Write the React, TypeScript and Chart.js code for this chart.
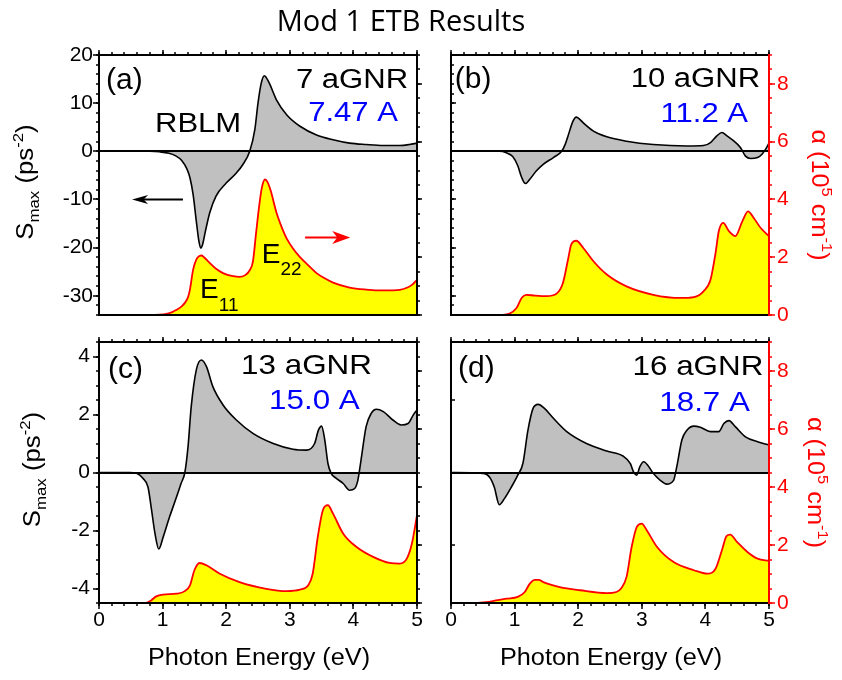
import { useEffect, useRef } from "react";
import { Chart, registerables } from "chart.js";
Chart.register(...registerables);

const FONT = "'Liberation Sans', Arial, sans-serif";
const TITLE_FONT = "'Open Sans', sans-serif";

// ---------- text / ticks ----------
const CHART_TITLE = "Mod 1 ETB Results";
const X_TICK_LABELS = [0, 1, 2, 3, 4, 5];
const S_TICKS_ROW1 = [-30, -20, -10, 0, 10, 20];
const S_TICKS_ROW2 = [-4, -2, 0, 2, 4];
const ALPHA_TICKS = [0, 2, 4, 6, 8];
const S_RANGE_ROW1 = [-34, 20];
const S_RANGE_ROW2 = [-4.5, 4.5];
const ALPHA_RANGE = [0, 9];
const E_RANGE = [0, 5];
const PANEL_LABELS = ["(a)", "(b)", "(c)", "(d)"];
const RIBBON_NAMES = ["7 aGNR", "10 aGNR", "13 aGNR", "16 aGNR"];
const RIBBON_WIDTHS = ["7.47 A", "11.2 A", "15.0 A", "18.7 A"];
const X_TITLE = "Photon Energy (eV)";

// ---------- (a) 7 aGNR ----------
const energyS_7 = [0, 0.8, 0.95, 1.1, 1.2, 1.3, 1.38, 1.43, 1.48, 1.53, 1.57, 1.6, 1.63, 1.67, 1.74, 1.84, 2.0, 2.16, 2.26, 2.37, 2.45, 2.5, 2.55, 2.6, 2.63, 2.68, 2.79, 2.95, 3.16, 3.42, 3.68, 3.94, 4.2, 4.47, 4.73, 4.88, 5.0];
const smax_7 = [0, 0, -0.1, -0.4, -0.9, -1.9, -3.6, -5.5, -9.0, -14.5, -18.6, -20.1, -19.3, -16.8, -12.8, -9.3, -6.6, -4.5, -2.8, 0, 4.5, 10, 14.1, 15.7, 15.3, 14.1, 10.7, 7.6, 5.2, 3.4, 2.4, 1.7, 1.4, 1.2, 1.2, 1.4, 1.7];
const energyAlpha_7 = [0, 0.8, 0.95, 1.06, 1.15, 1.22, 1.3, 1.35, 1.4, 1.43, 1.48, 1.53, 1.58, 1.61, 1.65, 1.72, 1.84, 1.95, 2.05, 2.2, 2.3, 2.37, 2.42, 2.47, 2.52, 2.56, 2.61, 2.65, 2.7, 2.79, 2.88, 2.95, 3.05, 3.16, 3.3, 3.42, 3.55, 3.68, 3.94, 4.2, 4.47, 4.73, 4.85, 4.93, 5.0];
const alpha_7 = [0, 0, 0.01, 0.04, 0.1, 0.18, 0.3, 0.42, 0.62, 0.88, 1.57, 1.92, 2.04, 2.06, 2.0, 1.85, 1.6, 1.45, 1.37, 1.32, 1.38, 1.55, 1.85, 2.84, 3.8, 4.4, 4.69, 4.6, 4.3, 3.55, 3.0, 2.65, 2.3, 2.0, 1.7, 1.45, 1.27, 1.12, 0.95, 0.88, 0.85, 0.87, 0.95, 1.06, 1.22];

// ---------- (b) 10 aGNR ----------
const energyS_10 = [0, 0.76, 0.87, 0.97, 1.05, 1.11, 1.17, 1.24, 1.34, 1.45, 1.61, 1.74, 1.8, 1.84, 1.92, 1.97, 2.02, 2.08, 2.24, 2.45, 2.76, 3.18, 3.71, 3.97, 4.08, 4.18, 4.26, 4.34, 4.45, 4.55, 4.63, 4.71, 4.82, 4.89, 4.95, 5.0];
const smax_10 = [0, 0, -0.3, -1.1, -3.0, -5.4, -6.7, -5.8, -4.1, -2.7, -1.3, 0, 1.6, 3.2, 6.3, 7.1, 6.7, 5.9, 4.2, 3.0, 2.1, 1.4, 1.1, 1.2, 1.8, 3.2, 3.9, 3.2, 2.1, 0.8, -1.0, -1.5, -1.3, -0.6, 0.5, 1.7];
const energyAlpha_10 = [0, 0.76, 0.92, 1.03, 1.11, 1.18, 1.32, 1.5, 1.66, 1.76, 1.84, 1.89, 1.97, 2.08, 2.24, 2.45, 2.76, 3.18, 3.61, 3.82, 3.97, 4.08, 4.16, 4.21, 4.28, 4.37, 4.47, 4.58, 4.67, 4.76, 4.87, 5.0];
const alpha_10 = [0, 0, 0.05, 0.24, 0.59, 0.7, 0.67, 0.65, 0.74, 1.11, 1.92, 2.44, 2.57, 2.32, 1.86, 1.4, 0.99, 0.7, 0.59, 0.62, 0.82, 1.22, 2.15, 2.9, 3.19, 2.9, 2.73, 3.24, 3.59, 3.36, 3.01, 2.73];

// ---------- (c) 13 aGNR ----------
const energyS_13 = [0, 0.48, 0.59, 0.69, 0.77, 0.82, 0.88, 0.94, 1.01, 1.11, 1.22, 1.29, 1.35, 1.4, 1.45, 1.53, 1.61, 1.69, 1.79, 1.95, 2.16, 2.42, 2.74, 3.05, 3.26, 3.39, 3.45, 3.5, 3.55, 3.6, 3.65, 3.73, 3.84, 3.94, 4.02, 4.07, 4.12, 4.2, 4.28, 4.36, 4.47, 4.62, 4.75, 4.86, 4.94, 5.0];
const smax_13 = [0, 0, -0.03, -0.2, -0.5, -1.19, -2.1, -2.64, -2.22, -1.53, -0.84, -0.38, 0, 0.89, 2.27, 3.54, 3.88, 3.65, 2.96, 2.33, 1.81, 1.35, 1.0, 0.8, 0.77, 1.0, 1.46, 1.6, 1.12, 0.31, -0.03, -0.2, -0.38, -0.61, -0.55, -0.27, 0.43, 1.58, 2.04, 2.18, 2.1, 1.81, 1.64, 1.69, 1.98, 2.16];
const energyAlpha_13 = [0, 0.74, 0.82, 0.9, 1.01, 1.22, 1.35, 1.43, 1.5, 1.58, 1.69, 1.9, 2.21, 2.63, 2.95, 3.16, 3.29, 3.36, 3.44, 3.52, 3.6, 3.68, 3.84, 4.05, 4.31, 4.57, 4.73, 4.84, 4.92, 5.0];
const alpha_13 = [0, 0, 0.09, 0.23, 0.29, 0.32, 0.41, 0.61, 1.13, 1.38, 1.3, 1.01, 0.72, 0.49, 0.41, 0.46, 0.61, 1.01, 2.28, 3.2, 3.37, 3.08, 2.39, 1.93, 1.59, 1.38, 1.36, 1.53, 2.05, 3.03];

// ---------- (d) 16 aGNR ----------
const energyS_16 = [0, 0.5, 0.61, 0.68, 0.76, 0.84, 0.95, 1.05, 1.13, 1.21, 1.29, 1.37, 1.47, 1.61, 1.82, 2.13, 2.45, 2.71, 2.82, 2.87, 2.92, 2.97, 3.03, 3.11, 3.18, 3.29, 3.39, 3.5, 3.55, 3.63, 3.71, 3.82, 3.92, 4.08, 4.21, 4.29, 4.37, 4.47, 4.63, 4.82, 5.0];
const smax_16 = [0, -0.03, -0.17, -0.5, -1.11, -0.9, -0.5, -0.09, 0.31, 1.46, 2.21, 2.35, 2.21, 1.87, 1.41, 1.0, 0.74, 0.56, 0.31, 0.02, -0.09, 0.2, 0.37, 0.2, -0.03, -0.27, -0.4, -0.27, 0.2, 1.12, 1.46, 1.6, 1.56, 1.41, 1.41, 1.69, 1.79, 1.58, 1.23, 1.06, 0.95];
const energyAlpha_16 = [0, 0.29, 0.55, 0.71, 0.87, 1.05, 1.16, 1.24, 1.32, 1.38, 1.45, 1.71, 2.03, 2.45, 2.6, 2.68, 2.76, 2.84, 2.92, 3.0, 3.08, 3.24, 3.5, 3.82, 4.03, 4.16, 4.26, 4.33, 4.39, 4.5, 4.66, 4.82, 5.0];
const alpha_16 = [0, 0, 0.03, 0.09, 0.15, 0.21, 0.38, 0.67, 0.8, 0.8, 0.72, 0.55, 0.44, 0.34, 0.38, 0.52, 0.9, 1.93, 2.62, 2.74, 2.5, 1.93, 1.41, 1.13, 1.01, 1.18, 1.82, 2.3, 2.36, 2.1, 1.76, 1.53, 1.45];

// ---------- layout ----------
type Seg = { t: string; size: number; dy?: number };
type Ann = { segs: Seg[]; x: number; y: number; align: "left" | "right" | "center"; color: string; sx: number; font?: string };
type Arrow = { x1: number; x2: number; y: number; color: string; head: number; half: number; lw: number };
type TickSpec = { axis: "x" | "y" | "y2"; edge: "top" | "bottom" | "left" | "right"; step: number; len: number; dir: number; color: string };

const W = 842, H = 680;
const COLS = [{ l: 99, r: 417 }, { l: 451, r: 769 }];
const ROWS = [{ t: 55, b: 315 }, { t: 342, b: 603 }];
const LEFT_AXIS_W = 45, RIGHT_AXIS_W = 40, X_AXIS_H = 40;

const leftTitle: Seg[] = [{ t: "S", size: 23 }, { t: "max", size: 15, dy: 6 }, { t: " (ps", size: 23 }, { t: "-2", size: 15, dy: -10 }, { t: ")", size: 23 }];
const rightTitle: Seg[] = [{ t: "α (10", size: 23 }, { t: "5", size: 15, dy: -10 }, { t: " cm", size: 23 }, { t: "-1", size: 15, dy: -10 }, { t: ")", size: 23 }];

function drawRich(ctx: CanvasRenderingContext2D, segs: Seg[], x: number, y: number, align: string, color: string, sx: number, rot = 0, font = FONT) {
  ctx.save();
  ctx.translate(x, y);
  if (rot) ctx.rotate(rot);
  ctx.scale(sx, 1);
  let w = 0;
  for (const s of segs) { ctx.font = `${s.size}px ${font}`; w += ctx.measureText(s.t).width; }
  let cx = align === "left" ? 0 : align === "center" ? -w / 2 : -w;
  ctx.fillStyle = color;
  ctx.textBaseline = "alphabetic";
  ctx.textAlign = "left";
  for (const s of segs) {
    ctx.font = `${s.size}px ${font}`;
    ctx.fillText(s.t, cx, s.dy || 0);
    cx += ctx.measureText(s.t).width;
  }
  ctx.restore();
}

function topTicks(): TickSpec[] {
  return [
    { axis: "x", edge: "top", step: 0.2, len: 3, dir: 1, color: "#000" },
    { axis: "x", edge: "top", step: 1, len: 5, dir: 1, color: "#000" },
  ];
}
function bottomTicks(): TickSpec[] {
  return [
    { axis: "x", edge: "bottom", step: 0.2, len: 3, dir: 1, color: "#000" },
    { axis: "x", edge: "bottom", step: 1, len: 6, dir: 1, color: "#000" },
  ];
}
function alphaTicks(color: string, major: number): TickSpec[] {
  return [
    { axis: "y2", edge: "right", step: 0.5, len: 3, dir: 1, color },
    { axis: "y2", edge: "right", step: 2, len: major, dir: 1, color },
  ];
}

type PanelCfg = {
  key: string; col: number; row: number;
  sE: number[]; sV: number[]; aE: number[]; aV: number[];
  anns: Ann[]; arrows: Arrow[]; ticks: TickSpec[];
};

const PANELS: PanelCfg[] = [
  {
    key: "a", col: 0, row: 0, sE: energyS_7, sV: smax_7, aE: energyAlpha_7, aV: alpha_7,
    anns: [
      { segs: [{ t: PANEL_LABELS[0], size: 30 }], x: 0.11, y: 13.0, align: "left", color: "#000", sx: 1 },
      { segs: [{ t: RIBBON_NAMES[0], size: 27 }], x: 4.86, y: 13.1, align: "right", color: "#000", sx: 1.15 },
      { segs: [{ t: RIBBON_WIDTHS[0], size: 27 }], x: 4.7, y: 6.3, align: "right", color: "#0000ff", sx: 1.15 },
      { segs: [{ t: "RBLM", size: 27 }], x: 0.88, y: 3.95, align: "left", color: "#000", sx: 1.15 },
      { segs: [{ t: "E", size: 28 }, { t: "11", size: 19, dy: 13 }], x: 1.59, y: -30.4, align: "left", color: "#000", sx: 1 },
      { segs: [{ t: "E", size: 28 }, { t: "22", size: 19, dy: 12 }], x: 2.56, y: -23.3, align: "left", color: "#000", sx: 1 },
    ],
    arrows: [
      { x1: 1.32, x2: 0.52, y: -10, color: "#000", head: 16, half: 4.5, lw: 2 },
      { x1: 3.24, x2: 3.95, y: -17.9, color: "#ff0000", head: 18, half: 6.5, lw: 2 },
    ],
    ticks: [...topTicks(),
      { axis: "y", edge: "left", step: 2, len: 3, dir: 1, color: "#000" },
      { axis: "y", edge: "left", step: 10, len: 6, dir: 1, color: "#000" },
      ...alphaTicks("#000", 5)],
  },
  {
    key: "b", col: 1, row: 0, sE: energyS_10, sV: smax_10, aE: energyAlpha_10, aV: alpha_10,
    anns: [
      { segs: [{ t: PANEL_LABELS[1], size: 30 }], x: 0.06, y: 13.2, align: "left", color: "#000", sx: 1 },
      { segs: [{ t: RIBBON_NAMES[1], size: 27 }], x: 4.86, y: 13.3, align: "right", color: "#000", sx: 1.15 },
      { segs: [{ t: RIBBON_WIDTHS[1], size: 27 }], x: 4.67, y: 6.15, align: "right", color: "#0000ff", sx: 1.15 },
    ],
    arrows: [],
    ticks: [...topTicks(),
      { axis: "y", edge: "left", step: 2, len: 3, dir: -1, color: "#000" },
      { axis: "y", edge: "left", step: 10, len: 5, dir: -1, color: "#000" },
      ...alphaTicks("#ff0000", 6)],
  },
  {
    key: "c", col: 0, row: 1, sE: energyS_13, sV: smax_13, aE: energyAlpha_13, aV: alpha_13,
    anns: [
      { segs: [{ t: PANEL_LABELS[2], size: 30 }], x: 0.14, y: 3.25, align: "left", color: "#000", sx: 1 },
      { segs: [{ t: RIBBON_NAMES[2], size: 28 }], x: 4.29, y: 3.4, align: "right", color: "#000", sx: 1.12 },
      { segs: [{ t: RIBBON_WIDTHS[2], size: 28 }], x: 4.1, y: 2.18, align: "right", color: "#0000ff", sx: 1.12 },
    ],
    arrows: [],
    ticks: [...topTicks(), ...bottomTicks(),
      { axis: "y", edge: "left", step: 0.5, len: 3, dir: 1, color: "#000" },
      { axis: "y", edge: "left", step: 2, len: 6, dir: 1, color: "#000" },
      ...alphaTicks("#000", 5)],
  },
  {
    key: "d", col: 1, row: 1, sE: energyS_16, sV: smax_16, aE: energyAlpha_16, aV: alpha_16,
    anns: [
      { segs: [{ t: PANEL_LABELS[3], size: 30 }], x: 0.11, y: 3.3, align: "left", color: "#000", sx: 1 },
      { segs: [{ t: RIBBON_NAMES[3], size: 28 }], x: 4.91, y: 3.36, align: "right", color: "#000", sx: 1.12 },
      { segs: [{ t: RIBBON_WIDTHS[3], size: 28 }], x: 4.7, y: 2.13, align: "right", color: "#0000ff", sx: 1.12 },
    ],
    arrows: [],
    ticks: [...topTicks(), ...bottomTicks(),
      { axis: "y", edge: "left", step: 2.5, len: 4, dir: -1, color: "#000" },
      ...alphaTicks("#ff0000", 6)],
  },
];

function makeDecor(cfg: PanelCfg) {
  const showLeft = cfg.col === 0;
  const showBottom = cfg.row === 1;
  return {
    id: "decor",
    afterDatasetsDraw(chart: any) {
      const ctx: CanvasRenderingContext2D = chart.ctx;
      const ca = chart.chartArea;
      const xs = chart.scales.x, ys = chart.scales.y;
      ctx.save();
      // zero line
      const y0 = Math.round(ys.getPixelForValue(0));
      ctx.strokeStyle = "#000";
      ctx.lineWidth = 2;
      ctx.beginPath(); ctx.moveTo(ca.left, y0); ctx.lineTo(ca.right, y0); ctx.stroke();
      // tick marks
      for (const t of cfg.ticks) {
        const sc = chart.scales[t.axis];
        const start = Math.ceil(sc.min / t.step - 1e-6);
        const end = Math.floor(sc.max / t.step + 1e-6);
        ctx.strokeStyle = t.color;
        ctx.lineWidth = 1.5;
        ctx.beginPath();
        for (let k = start; k <= end; k++) {
          const p = Math.round(sc.getPixelForValue(k * t.step));
          if (t.edge === "bottom") { ctx.moveTo(p, ca.bottom); ctx.lineTo(p, ca.bottom + t.dir * t.len); }
          else if (t.edge === "top") { ctx.moveTo(p, ca.top); ctx.lineTo(p, ca.top - t.dir * t.len); }
          else if (t.edge === "left") { ctx.moveTo(ca.left, p); ctx.lineTo(ca.left - t.dir * t.len, p); }
          else { ctx.moveTo(ca.right, p); ctx.lineTo(ca.right + t.dir * t.len, p); }
        }
        ctx.stroke();
      }
      // frame
      ctx.strokeStyle = "#000";
      ctx.lineWidth = 2;
      ctx.strokeRect(ca.left, ca.top, ca.right - ca.left, ca.bottom - ca.top);
      if (!showLeft) {
        ctx.strokeStyle = "#ff0000";
        ctx.beginPath(); ctx.moveTo(ca.right, ca.top - 1); ctx.lineTo(ca.right, ca.bottom + 1); ctx.stroke();
      }
      // arrows
      for (const a of cfg.arrows) {
        const px1 = xs.getPixelForValue(a.x1), px2 = xs.getPixelForValue(a.x2), py = ys.getPixelForValue(a.y);
        const dir = px2 > px1 ? 1 : -1;
        ctx.strokeStyle = a.color; ctx.fillStyle = a.color; ctx.lineWidth = a.lw;
        ctx.beginPath(); ctx.moveTo(px1, py); ctx.lineTo(px2 - dir * a.head * 0.6, py); ctx.stroke();
        ctx.beginPath();
        ctx.moveTo(px2, py);
        ctx.lineTo(px2 - dir * a.head, py - a.half);
        ctx.lineTo(px2 - dir * a.head * 0.72, py);
        ctx.lineTo(px2 - dir * a.head, py + a.half);
        ctx.closePath(); ctx.fill();
      }
      // annotations
      for (const a of cfg.anns) {
        drawRich(ctx, a.segs, xs.getPixelForValue(a.x), ys.getPixelForValue(a.y), a.align, a.color, a.sx);
      }
      // axis titles
      const cy = (ca.top + ca.bottom) / 2;
      if (showLeft) {
        const bx = cfg.row === 0 ? ca.left - 66 : ca.left - 59;
        drawRich(ctx, leftTitle, bx, cy - 3, "center", "#000", 1.12, -Math.PI / 2);
      } else {
        const bx = cfg.row === 0 ? ca.right + 43 : ca.right + 39;
        drawRich(ctx, rightTitle, bx, cy + 10, "center", "#ff0000", 1.1, Math.PI / 2);
      }
      if (showBottom) {
        drawRich(ctx, [{ t: X_TITLE, size: 23 }], (ca.left + ca.right) / 2 + 1, ca.bottom + 62, "center", "#000", 1.1);
      }
      if (cfg.key === "a") {
        drawRich(ctx, [{ t: CHART_TITLE, size: 29 }], 401, 31, "center", "#000", 1, 0, TITLE_FONT);
      }
      ctx.restore();
    },
  };
}

function buildConfig(cfg: PanelCfg): any {
  const col = COLS[cfg.col], row = ROWS[cfg.row];
  const showLeft = cfg.col === 0;
  const showRight = cfg.col === 1;
  const showX = cfg.row === 1;
  const sRange = cfg.row === 0 ? S_RANGE_ROW1 : S_RANGE_ROW2;
  const sTicks = cfg.row === 0 ? S_TICKS_ROW1 : S_TICKS_ROW2;
  const padding = {
    left: col.l - (showLeft ? LEFT_AXIS_W : 0),
    right: W - col.r - (showRight ? RIGHT_AXIS_W : 0),
    top: row.t,
    bottom: H - row.b - (showX ? X_AXIS_H : 0),
  };
  const tickFont = { family: FONT, size: 21 };
  return {
    type: "line",
    data: {
      datasets: [
        {
          data: cfg.sE.map((x, i) => ({ x, y: cfg.sV[i] })),
          yAxisID: "y",
          borderColor: "#000000",
          borderWidth: 1.6,
          backgroundColor: "#c0c0c0",
          fill: { value: 0 },
          pointRadius: 0,
          cubicInterpolationMode: "monotone",
        },
        {
          data: cfg.aE.map((x, i) => ({ x, y: cfg.aV[i] })),
          yAxisID: "y2",
          borderColor: "#ff0000",
          borderWidth: 1.8,
          backgroundColor: "#ffff00",
          fill: "origin",
          pointRadius: 0,
          cubicInterpolationMode: "monotone",
        },
      ],
    },
    options: {
      animation: false,
      responsive: false,
      maintainAspectRatio: false,
      events: [],
      layout: { padding },
      plugins: { legend: { display: false }, tooltip: { enabled: false }, title: { display: false } },
      scales: {
        x: {
          type: "linear",
          min: E_RANGE[0],
          max: E_RANGE[1],
          display: showX,
          afterBuildTicks: (s: any) => { s.ticks = X_TICK_LABELS.map((v) => ({ value: v })); },
          afterFit: showX ? (s: any) => { s.height = X_AXIS_H; } : undefined,
          grid: { display: false, drawTicks: false },
          border: { display: false },
          ticks: { font: tickFont, color: "#000", padding: 5, maxRotation: 0, autoSkip: false, callback: (v: any) => String(v) },
        },
        y: {
          type: "linear",
          position: "left",
          min: sRange[0],
          max: sRange[1],
          display: showLeft,
          afterBuildTicks: (s: any) => { s.ticks = sTicks.map((v) => ({ value: v })); },
          afterFit: showLeft ? (s: any) => { s.width = LEFT_AXIS_W; } : undefined,
          grid: { display: false, drawTicks: false },
          border: { display: false },
          ticks: { font: tickFont, color: "#000", padding: cfg.row === 0 ? 6 : 9, autoSkip: false, callback: (v: any) => String(v) },
        },
        y2: {
          type: "linear",
          position: "right",
          min: ALPHA_RANGE[0],
          max: ALPHA_RANGE[1],
          display: showRight,
          afterBuildTicks: (s: any) => { s.ticks = ALPHA_TICKS.map((v) => ({ value: v })); },
          afterFit: showRight ? (s: any) => { s.width = RIGHT_AXIS_W; } : undefined,
          grid: { display: false, drawTicks: false },
          border: { display: false },
          ticks: { font: tickFont, color: "#ff0000", padding: 8, autoSkip: false, callback: (v: any) => String(v) },
        },
      },
    },
    plugins: [makeDecor(cfg)],
  };
}

function Panel({ cfg }: { cfg: PanelCfg }) {
  const ref = useRef<HTMLCanvasElement>(null);
  useEffect(() => {
    const chart = new Chart(ref.current as HTMLCanvasElement, buildConfig(cfg));
    return () => chart.destroy();
  }, [cfg]);
  return (
    <canvas
      ref={ref}
      width={W}
      height={H}
      style={{ position: "absolute", left: 0, top: 0, width: W, height: H }}
    />
  );
}

export default function App() {
  return (
    <div style={{ position: "absolute", left: 0, top: 0, width: W, height: H, background: "#ffffff", overflow: "hidden" }}>
      {PANELS.map((p) => (
        <Panel key={p.key} cfg={p} />
      ))}
    </div>
  );
}
